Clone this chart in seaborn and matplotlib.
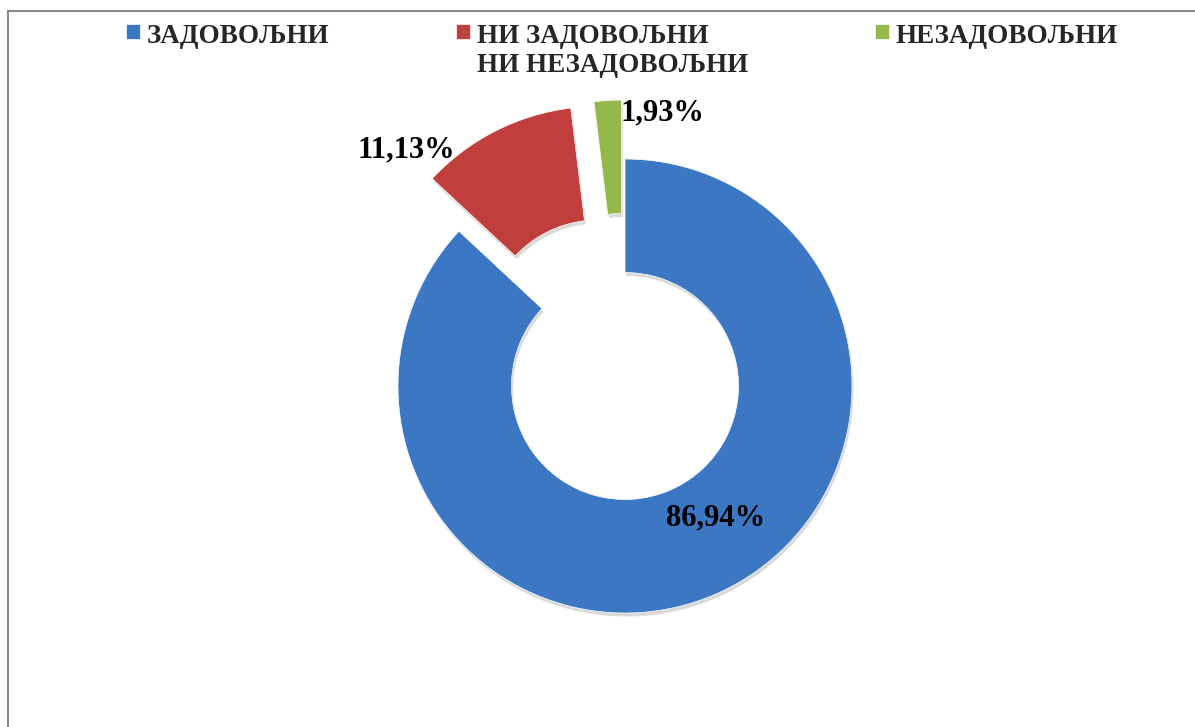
import matplotlib
matplotlib.use("Agg")
import matplotlib.pyplot as plt
import matplotlib.patheffects as pe
from matplotlib.patches import Rectangle
import seaborn as sns

# chart data
categories = ["ЗАДОВОЉНИ", "НИ ЗАДОВОЉНИ\nНИ НЕЗАДОВОЉНИ", "НЕЗАДОВОЉНИ"]
shares = [86.94, 11.13, 1.93]
explode = [0.0, 0.26, 0.26]
colors = ["#3C77C4", "#C03F3C", "#95B84A"]

# where each percent label sits (in pie radius units)
label_pos = [(0.40, -0.58), (-0.965, 1.04), (0.163, 1.205)]

sns.set_style("white")
plt.rcParams["font.family"] = ["Liberation Serif", "DejaVu Serif"]

fig = plt.figure(figsize=(11.95, 7.27), dpi=100)
ax = fig.add_axes([0, 0, 1, 1])

wedges, _, pct_texts = ax.pie(
    shares,
    explode=explode,
    colors=colors,
    startangle=90,
    counterclock=False,
    autopct=lambda p: f"{p:.2f}%".replace(".", ","),
    wedgeprops=dict(width=0.5, edgecolor="white", linewidth=0.5),
    textprops=dict(fontsize=22, fontweight="bold", color="black"),
)

for t, (x, y) in zip(pct_texts, label_pos):
    t.set_position((x, y))
    t.set_ha("center")
    t.set_va("center")

# 1 radius unit = 227 px, pie centre at (625, 386) px from top-left
r = 227.0
ax.set_xlim(-625 / r, (1195 - 625) / r)
ax.set_ylim(-(727 - 386) / r, 386 / r)
ax.axis("off")

leg = fig.legend(
    wedges, categories,
    loc="upper left", bbox_to_anchor=(107 / 1195, 1 - 5 / 727),
    ncol=3, frameon=False,
    prop=dict(family="Liberation Serif", weight="bold", size=19.5),
    handlelength=0.5, handleheight=0.5, handletextpad=0.25,
    columnspacing=4.7, borderpad=0.2, labelspacing=0.3,
)
# align columns to the top line like the original legend
leg._legend_handle_box.align = "top"
for col in leg._legend_handle_box.get_children():
    col.align = "left"
    for item in col.get_children():
        item.align = "top"

# soft drop shadow on the ring pieces only
for w in wedges:
    w.set_path_effects([
        pe.SimplePatchShadow(offset=(1, -2.5), shadow_rgbFace="black", alpha=0.15),
        pe.Normal(),
    ])

# chart frame (left and top edges visible)
fig.patches.append(Rectangle((8 / 1195, -0.1), 1.2, 1 - 11 / 727 + 0.1,
                             transform=fig.transFigure, fill=False,
                             edgecolor="#8a8a8a", linewidth=1.5))

fig.savefig("out.png", dpi=100)
